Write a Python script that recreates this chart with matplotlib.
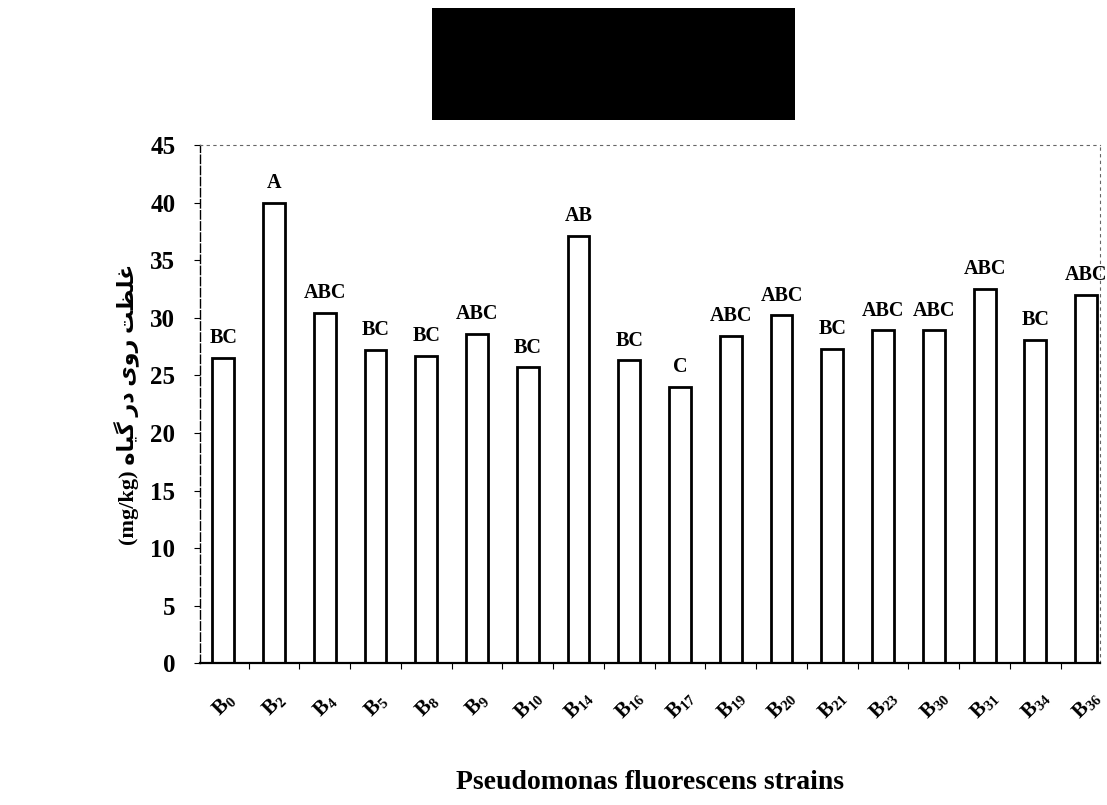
import matplotlib
matplotlib.use("Agg")
import matplotlib.pyplot as plt
import matplotlib.patches as mpatches
import numpy as np

# === Données
strains = ["0", "2", "4", "5", "8", "9", "10", "14", "16", "17",
           "19", "20", "21", "23", "30", "31", "34", "36"]
zinc = [26.5, 40.0, 30.4, 27.2, 26.7, 28.6, 25.7, 37.1, 26.3, 24.0,
        28.4, 30.2, 27.3, 28.9, 28.9, 32.5, 28.1, 32.0]
groups = ["BC", "A", "ABC", "BC", "BC", "ABC", "BC", "AB", "BC", "C",
          "ABC", "ABC", "BC", "ABC", "ABC", "ABC", "BC", "ABC"]
yticks = [0, 5, 10, 15, 20, 25, 30, 35, 40, 45]

# === Style
plt.rcParams['font.family'] = ['Liberation Serif', 'DejaVu Sans']
plt.rcParams['font.weight'] = 'bold'
plt.rcParams['mathtext.fontset'] = 'custom'
plt.rcParams['mathtext.rm'] = 'Liberation Serif:bold'
plt.rcParams['mathtext.default'] = 'rm'

fig = plt.figure(figsize=(11.07, 8.05), dpi=100)
fig.patch.set_facecolor('white')
ax = fig.add_axes([0.181, 0.176, 0.813, 0.644])

x = np.arange(len(strains))
bars = ax.bar(x, zinc, width=0.43, color='white', edgecolor='black', linewidth=2.0)

# lettres de groupes au-dessus des barres
for xi, v, g in zip(x, zinc, groups):
    ax.annotate(g, (xi, v), xytext=(0, 7), textcoords='offset points',
                ha='center', va='bottom', fontsize=14.5, fontweight='bold')

ax.set_xlim(-0.45, 17.28)
ax.set_ylim(0, 45)
ax.set_yticks(yticks)
ax.set_yticklabels([str(t) for t in yticks], fontsize=18, fontweight='bold')

ax.set_xticks(x)
ax.set_xticklabels(["B$_{%s}$" % s for s in strains], rotation=45,
                   fontsize=15, fontweight='bold', ha='center', va='center')
ax.tick_params(axis='x', which='major', length=0, pad=30)
ax.set_xticks(x[:-1] + 0.5, minor=True)
ax.tick_params(axis='x', which='minor', length=4, width=0.8, direction='out')
ax.tick_params(axis='y', length=4, width=0.8, direction='out', pad=14)

# cadre
for side in ['top', 'right']:
    ax.spines[side].set_linestyle((0, (2, 4)))
    ax.spines[side].set_color('#666666')
    ax.spines[side].set_linewidth(0.8)
ax.spines['left'].set_linestyle((0, (6, 2)))
ax.spines['left'].set_linewidth(1.0)
ax.spines['bottom'].set_linewidth(1.6)

ax.set_xlabel("Pseudomonas fluorescens strains", fontsize=20, fontweight='bold', labelpad=34)

# libellé persan (formes de présentation, ordre visuel)
persian_logical = "\uFECF\uFEE0\uFEC8\uFE96 \uFEAD\uFEED\uFBFC \uFEA9\uFEAD \uFB94\uFBFF\uFE8E\uFEE9"
ylabel = "(mg/kg) " + persian_logical[::-1]
ax.set_ylabel(ylabel, fontsize=16, fontweight='bold', labelpad=8)

# bloc titre (illisible dans l'original)
fig.patches.append(mpatches.Rectangle((432 / 1107, 1 - 120 / 805), 363 / 1107, 112 / 805,
                                      transform=fig.transFigure, facecolor='black',
                                      edgecolor='none'))

plt.savefig("out.png", dpi=100)
plt.close()
